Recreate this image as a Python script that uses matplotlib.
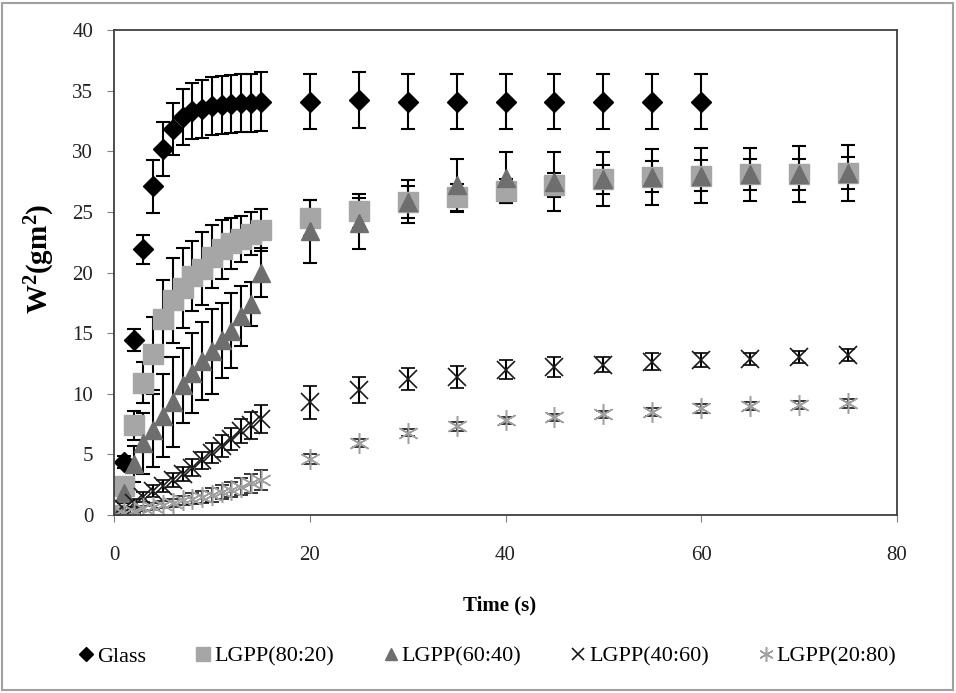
import matplotlib
matplotlib.use('Agg')
import matplotlib.pyplot as plt
from matplotlib.patches import Rectangle

plt.rcParams['font.family'] = ['Liberation Serif', 'DejaVu Serif']
plt.rcParams['mathtext.fontset'] = 'custom'
plt.rcParams['mathtext.rm'] = 'Liberation Serif'
plt.rcParams['mathtext.bf'] = 'Liberation Serif:bold'

# time axis (s)
t_early = [0, 1, 2, 3, 4, 5, 6, 7, 8, 9, 10, 11, 12, 13, 14, 15]
t_late = [20, 25, 30, 35, 40, 45, 50, 55, 60, 65, 70, 75]
t_glass_late = [20, 25, 30, 35, 40, 45, 50, 55, 60]

# Glass
glass = [0, 4.4, 14.4, 21.9, 27.1, 30.2, 31.8, 32.8, 33.3, 33.5, 33.7, 33.8, 33.9, 33.95, 34.0, 34.1,
         34.1, 34.2, 34.1, 34.1, 34.1, 34.1, 34.1, 34.1, 34.1]
glass_err = [0, 0.5, 0.9, 1.2, 2.2, 2.25, 2.15, 2.3, 2.3, 2.4, 2.4, 2.4, 2.4, 2.4, 2.4, 2.4,
             2.3, 2.3, 2.3, 2.3, 2.3, 2.3, 2.3, 2.3, 2.3]

# LGPP(80:20)
lg8020 = [0, 2.4, 7.4, 10.9, 13.3, 16.2, 17.7, 18.7, 19.7, 20.3, 21.3, 21.9, 22.4, 22.8, 23.2, 23.5,
          24.5, 25.1, 25.8, 26.2, 26.7, 27.2, 27.7, 27.9, 28.0, 28.1, 28.1, 28.2]
lg8020_err = [0, 0.5, 1.2, 1.7, 3.0, 3.2, 3.5, 3.3, 2.9, 3.0, 2.6, 2.4, 2.1, 1.9, 1.75, 1.7,
              1.5, 1.4, 1.3, 1.1, 1.0, 1.0, 1.2, 1.3, 1.3, 1.3, 1.3, 1.3]

# LGPP(60:40)
lg6040 = [0, 1.8, 4.2, 5.9, 7.0, 8.2, 9.3, 10.7, 11.7, 12.7, 13.5, 14.4, 15.2, 16.4, 17.4, 20.0,
          23.4, 24.05, 25.85, 27.2, 27.8, 27.5, 27.7, 27.9, 28.0, 28.1, 28.1, 28.2]
lg6040_err = [0, 0.8, 1.5, 2.5, 3.0, 3.4, 3.7, 3.1, 3.3, 3.2, 3.5, 3.1, 3.1, 2.5, 1.8, 2.0,
              2.6, 2.1, 1.8, 2.2, 2.1, 2.4, 2.2, 2.3, 2.3, 2.2, 2.3, 2.3]

# LGPP(40:60)
lg4060 = [0, 0.5, 1.0, 1.5, 2.0, 2.4, 2.9, 3.4, 3.9, 4.5, 5.1, 5.7, 6.3, 6.9, 7.4, 7.9,
          9.3, 10.3, 11.2, 11.4, 12.0, 12.2, 12.4, 12.65, 12.8, 12.9, 13.05, 13.2]
lg4060_err = [0, 0.2, 0.3, 0.4, 0.5, 0.5, 0.6, 0.6, 0.7, 0.7, 0.8, 0.9, 0.9, 1.0, 1.1, 1.15,
              1.35, 1.1, 0.9, 0.9, 0.75, 0.8, 0.6, 0.7, 0.6, 0.5, 0.5, 0.5]

# LGPP(20:80)
lg2080 = [0, 0.2, 0.35, 0.55, 0.7, 0.85, 1.0, 1.2, 1.35, 1.5, 1.65, 1.9, 2.1, 2.35, 2.6, 2.9,
          4.6, 5.95, 6.8, 7.3, 7.8, 8.05, 8.3, 8.5, 8.8, 9.0, 9.07, 9.2]
lg2080_err = [0, 0.1, 0.15, 0.2, 0.25, 0.3, 0.35, 0.4, 0.45, 0.5, 0.55, 0.6, 0.65, 0.7, 0.75, 0.8,
              0.4, 0.35, 0.3, 0.35, 0.3, 0.3, 0.3, 0.35, 0.35, 0.3, 0.3, 0.35]

t_all = t_early + t_late
t_glass = t_early + t_glass_late

fig = plt.figure(figsize=(9.56, 6.93), dpi=100)
ax = fig.add_axes([114 / 956, 178 / 693, 783 / 956, 485 / 693])

# outer chart border
fig.patches.append(Rectangle((2 / 956, 3 / 693), 951 / 956, 687 / 693, transform=fig.transFigure,
                             fill=False, edgecolor='#a0a0a0', linewidth=1.5))

ebkw = dict(ecolor='black', elinewidth=1.5, capsize=5, capthick=1.5, linestyle='none')

ax.errorbar(t_glass, glass, yerr=glass_err, marker='D', ms=10, color='black', label='Glass', **ebkw)
ax.errorbar(t_all, lg8020, yerr=lg8020_err, marker='s', ms=14, color='#a6a6a6', mec='#a6a6a6',
            label='LGPP(80:20)', **ebkw)
ax.errorbar(t_all, lg6040, yerr=lg6040_err, marker='^', ms=13, color='#6e6e6e', mec='#6e6e6e',
            label='LGPP(60:40)', **ebkw)
ax.errorbar(t_all, lg4060, yerr=lg4060_err, marker='x', ms=13, mew=1.2, color='#1a1a1a',
            label='LGPP(40:60)', **ebkw)
ax.errorbar(t_all, lg2080, yerr=lg2080_err, marker=(6, 2, 0), ms=15, mew=1.1, color='#a0a0a0',
            label='LGPP(20:80)', **ebkw)

ax.set_xlim(0, 80)
ax.set_ylim(0, 40)
ax.set_xticks([0, 20, 40, 60, 80])
ax.set_yticks(range(0, 41, 5))
for s in ax.spines.values():
    s.set_color('#404040')
    s.set_linewidth(1.3)
ax.tick_params(axis='both', direction='out', length=5, color='#808080', labelsize=15,
               labelcolor='#222222')
ax.tick_params(axis='x', pad=17)
ax.tick_params(axis='y', pad=10)

fig.text(0.523, 0.127, 'Time (s)', ha='center', va='center', fontsize=15, fontweight='bold')
fig.text(0.042, 0.627, r'$\mathbf{W^2(gm^2)}$', ha='center', va='center', rotation=90,
         fontsize=21)

handles, labels = ax.get_legend_handles_labels()
handles = [h[0] for h in handles]
leg = fig.legend(handles, labels, loc='center', bbox_to_anchor=(0.51, 0.053), ncol=5,
                 frameon=False, fontsize=16, handlelength=0.7, handletextpad=0.15,
                 columnspacing=2.2, markerscale=0.7)

fig.savefig('out.png', dpi=100)
